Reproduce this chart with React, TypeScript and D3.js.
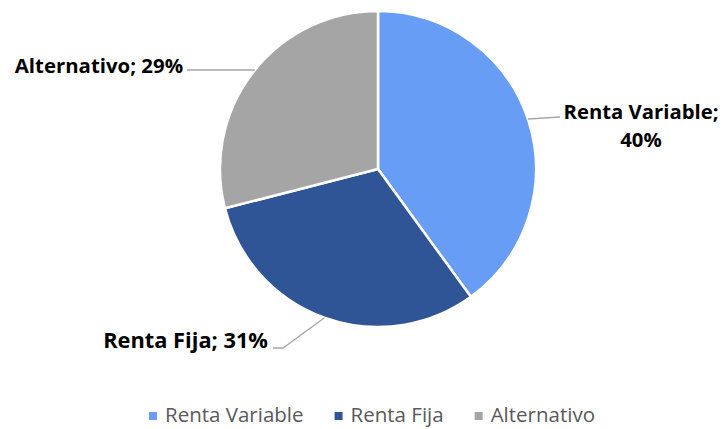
import React, { useEffect, useRef } from "react";
import * as d3 from "d3";

const categories = ["Renta Variable", "Renta Fija", "Alternativo"];
const values = [40, 31, 29];
const colors = ["#679df4", "#2f5597", "#a5a5a5"];
const labelLines = [["Renta Variable;", "40%"], ["Renta Fija; 31%"], ["Alternativo; 29%"]];

const W = 723, H = 429;
const cx = 378, cy = 169, R = 158;

export default function App() {
  const ref = useRef<SVGSVGElement>(null);
  useEffect(() => {
    const svg = d3.select(ref.current);
    svg.selectAll("*").remove();
    const pie = d3.pie<number>().sort(null).value((d) => d)(values);
    const arc = d3.arc<d3.PieArcDatum<number>>().innerRadius(0).outerRadius(R);
    const g = svg.append("g").attr("transform", `translate(${cx},${cy})`);
    g.selectAll("path").data(pie).join("path")
      .attr("d", arc as any)
      .attr("fill", (_, i) => colors[i])
      .attr("stroke", "#fff").attr("stroke-width", 2.5).attr("stroke-linejoin", "round");

    const font = "'Open Sans', sans-serif";
    const lineColor = "#a6a6a6";
    const pt = (a: number, r: number) => [Math.sin(a) * r, -Math.cos(a) * r];
    // Renta Variable
    {
      const y0 = 119 - cy;
      const x0 = Math.sqrt(R * R - y0 * y0);
      g.append("path").attr("d", `M${x0},${y0} L${560 - cx},${117 - cy}`)
        .attr("stroke", lineColor).attr("fill", "none").attr("stroke-width", 1.3);
      const t = g.append("text").attr("text-anchor", "middle").attr("font-family", font)
        .attr("font-weight", "bold").attr("font-size", 20.3).attr("fill", "#000");
      labelLines[0].forEach((s, i) =>
        t.append("tspan").attr("x", 641 - cx).attr("y", 119 - cy + i * 28).text(s));
    }
    // Renta Fija
    {
      const a = (pie[1].startAngle + pie[1].endAngle) / 2;
      const p = pt(a, R);
      g.append("path").attr("d", `M${p[0]},${p[1]} L${283 - cx},${348 - cy} L${273 - cx},${348 - cy}`)
        .attr("stroke", lineColor).attr("fill", "none").attr("stroke-width", 1.3);
      g.append("text").attr("x", 268 - cx).attr("y", 348 - cy).attr("text-anchor", "end")
        .attr("font-family", font).attr("font-weight", "bold").attr("font-size", 21.8)
        .text(labelLines[1][0]);
    }
    // Alternativo
    {
      const y = 70 - cy;
      const x = -Math.sqrt(R * R - y * y);
      g.append("path").attr("d", `M${x},${y} L${187 - cx},${y}`)
        .attr("stroke", lineColor).attr("fill", "none").attr("stroke-width", 1.3);
      g.append("text").attr("x", 183 - cx).attr("y", 73 - cy).attr("text-anchor", "end")
        .attr("font-family", font).attr("font-weight", "bold").attr("font-size", 20.4)
        .text(labelLines[2][0]);
    }

    // legend
    const lg = svg.append("g");
    const items = lg.selectAll("g").data(categories).join("g");
    items.append("rect").attr("width", 8).attr("height", 8).attr("y", -10)
      .attr("fill", (_, i) => colors[i]);
    items.append("text").attr("x", 16).attr("y", 0).attr("font-family", font)
      .attr("font-size", 20.5).attr("fill", "#595959").text((d) => d);
    const widths: number[] = [];
    items.each(function () {
      widths.push((d3.select(this).select("text").node() as SVGTextElement).getComputedTextLength() + 16);
    });
    const gap = 31;
    const total = d3.sum(widths) + gap * (widths.length - 1);
    let x0 = 372 - total / 2;
    items.attr("transform", (_, i) => {
      const t = `translate(${x0},${422})`;
      x0 += widths[i] + gap;
      return t;
    });
  }, []);
  return (
    <svg ref={ref} width={W} height={H}
      style={{ position: "absolute", left: 0, top: 0, background: "#fff" }} />
  );
}
